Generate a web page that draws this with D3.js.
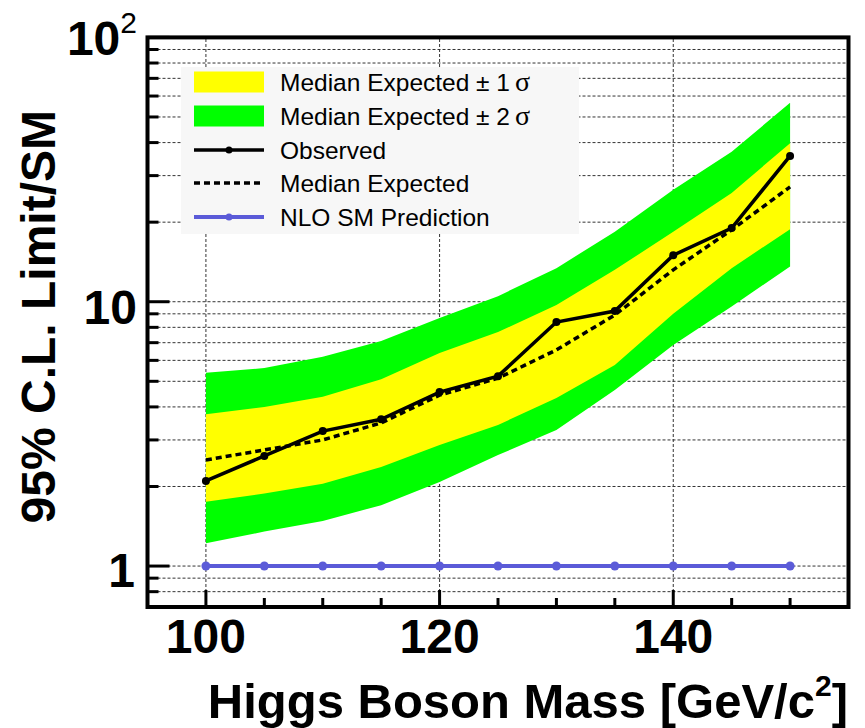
<!DOCTYPE html>
<html>
<head>
<meta charset="utf-8">
<script src="https://cdn.jsdelivr.net/npm/d3@7"></script>
<style>
  body { margin: 0; background: #fff; }
  svg { display: block; font-family: "Liberation Sans", Arial, sans-serif; }
</style>
</head>
<body>
<div id="chart"></div>
<script>
// values
const mass = [100, 105, 110, 115, 120, 125, 130, 135, 140, 145, 150];
const observed = [2.10, 2.61, 3.24, 3.59, 4.55, 5.23, 8.38, 9.22, 15.0, 19.0, 35.6];
const expected = [2.52, 2.75, 3.00, 3.48, 4.43, 5.14, 6.57, 8.91, 13.2, 18.7, 27.2];
const plus1 = [3.75, 4.00, 4.37, 5.09, 6.40, 7.68, 9.72, 13.2, 18.4, 25.8, 39.8];
const minus1 = [1.75, 1.88, 2.05, 2.37, 2.87, 3.42, 4.32, 5.76, 9.0, 13.4, 18.8];
const plus2 = [5.39, 5.61, 6.19, 7.10, 8.68, 10.5, 13.4, 18.4, 26.5, 36.9, 56.6];
const minus2 = [1.22, 1.35, 1.48, 1.70, 2.08, 2.63, 3.27, 4.63, 6.86, 9.6, 13.6];
const smPrediction = [1, 1, 1, 1, 1, 1, 1, 1, 1, 1, 1];

const xTicksMajor = [100, 120, 140];
const xTicksMinor = [105, 110, 115, 125, 130, 135, 145, 150];
const yTicksMajor = [1, 10, 100];
const yTicksMinor = [0.8, 0.9, 2, 3, 4, 5, 6, 7, 8, 9, 20, 30, 40, 50, 60, 70, 80, 90];

const legendItems = ["Median Expected ± 1", "Median Expected ± 2", "Observed", "Median Expected", "NLO SM Prediction"];

const width = 865;
const height = 728;

const x = d3.scaleLinear([95, 155], [147.5, 848.5]);
const y = d3.scaleLog([0.7, 100], [607, 37.4]);

const svg = d3.select("#chart").append("svg")
  .attr("width", width)
  .attr("height", height);

const rows = mass.map((m, i) => ({
  m,
  obs: observed[i],
  exp: expected[i],
  p1: plus1[i],
  m1: minus1[i],
  p2: plus2[i],
  m2: minus2[i],
  sm: smPrediction[i]
}));

// grid
const grid = svg.append("g")
  .attr("stroke", "#333")
  .attr("stroke-width", 1)
  .attr("stroke-dasharray", "3,2");

grid.selectAll(".hgrid")
  .data(yTicksMajor.concat(yTicksMinor).filter(d => d < 100))
  .join("line")
  .attr("x1", x.range()[0])
  .attr("x2", x.range()[1])
  .attr("y1", d => y(d))
  .attr("y2", d => y(d));

grid.selectAll(".vgrid")
  .data(xTicksMajor)
  .join("line")
  .attr("x1", d => x(d))
  .attr("x2", d => x(d))
  .attr("y1", y.range()[0])
  .attr("y2", y.range()[1]);

// bands
const band = (lo, hi) => d3.area()
  .x(d => x(d.m))
  .y0(d => y(d[lo]))
  .y1(d => y(d[hi]));

svg.append("path")
  .attr("d", band("m2", "p2")(rows))
  .attr("fill", "#00ff00");

svg.append("path")
  .attr("d", band("m1", "p1")(rows))
  .attr("fill", "#ffff00");

// lines
const line = key => d3.line()
  .x(d => x(d.m))
  .y(d => y(d[key]));

svg.append("path")
  .attr("d", line("exp")(rows))
  .attr("fill", "none")
  .attr("stroke", "#000")
  .attr("stroke-width", 3.5)
  .attr("stroke-dasharray", "6,4");

svg.append("path")
  .attr("d", line("obs")(rows))
  .attr("fill", "none")
  .attr("stroke", "#000")
  .attr("stroke-width", 3.5);

svg.append("g")
  .selectAll("circle")
  .data(rows)
  .join("circle")
  .attr("cx", d => x(d.m))
  .attr("cy", d => y(d.obs))
  .attr("r", 4)
  .attr("fill", "#000");

svg.append("path")
  .attr("d", line("sm")(rows))
  .attr("fill", "none")
  .attr("stroke", "#5b5bd8")
  .attr("stroke-width", 4);

svg.append("g")
  .selectAll("circle")
  .data(rows)
  .join("circle")
  .attr("cx", d => x(d.m))
  .attr("cy", d => y(d.sm))
  .attr("r", 4.5)
  .attr("fill", "#5b5bd8");

// legend
const lg = svg.append("g");
lg.append("rect")
  .attr("x", 181)
  .attr("y", 67)
  .attr("width", 398)
  .attr("height", 167)
  .attr("fill", "#f7f7f7");

const rowY = [82, 116, 150, 183, 217];

lg.append("rect").attr("x", 194).attr("y", 71.5).attr("width", 70).attr("height", 21).attr("fill", "#ffff00");
lg.append("rect").attr("x", 194).attr("y", 105.5).attr("width", 70).attr("height", 21).attr("fill", "#00ff00");
lg.append("line").attr("x1", 194).attr("x2", 264).attr("y1", rowY[2]).attr("y2", rowY[2])
  .attr("stroke", "#000").attr("stroke-width", 3.5);
lg.append("circle").attr("cx", 229).attr("cy", rowY[2]).attr("r", 3.5).attr("fill", "#000");
lg.append("line").attr("x1", 194).attr("x2", 264).attr("y1", rowY[3]).attr("y2", rowY[3])
  .attr("stroke", "#000").attr("stroke-width", 3.5).attr("stroke-dasharray", "6,4");
lg.append("line").attr("x1", 194).attr("x2", 264).attr("y1", rowY[4]).attr("y2", rowY[4])
  .attr("stroke", "#5b5bd8").attr("stroke-width", 4);
lg.append("circle").attr("cx", 229).attr("cy", rowY[4]).attr("r", 3.5).attr("fill", "#5b5bd8");

legendItems.forEach((t, i) => {
  const txt = lg.append("text")
    .attr("x", 280)
    .attr("y", rowY[i] + 9)
    .attr("font-size", 24.5)
    .attr("fill", "#000")
    .text(t);
  if (i < 2) {
    txt.append("tspan")
      .attr("dx", 5)
      .attr("font-family", "'Liberation Serif', serif")
      .attr("font-size", 28)
      .text("σ");
  }
});

// ticks
const ticks = svg.append("g").attr("stroke", "#000").attr("stroke-width", 3);
const x0 = x.range()[0];
ticks.selectAll(".ymaj").data(yTicksMajor).join("line")
  .attr("x1", x0).attr("x2", x0 + 22).attr("y1", d => y(d)).attr("y2", d => y(d));
ticks.selectAll(".ymin").data(yTicksMinor).join("line")
  .attr("x1", x0).attr("x2", x0 + 11).attr("y1", d => y(d)).attr("y2", d => y(d));
const yb = y.range()[0];
ticks.selectAll(".xmaj").data(xTicksMajor).join("line")
  .attr("x1", d => x(d)).attr("x2", d => x(d)).attr("y1", yb).attr("y2", yb - 17);
ticks.selectAll(".xmin").data(xTicksMinor).join("line")
  .attr("x1", d => x(d)).attr("x2", d => x(d)).attr("y1", yb).attr("y2", yb - 9);

// frame
svg.append("rect")
  .attr("x", x.range()[0])
  .attr("y", y.range()[1])
  .attr("width", x.range()[1] - x.range()[0])
  .attr("height", y.range()[0] - y.range()[1])
  .attr("fill", "none")
  .attr("stroke", "#000")
  .attr("stroke-width", 4);

// tick labels
svg.append("g")
  .selectAll("text")
  .data(xTicksMajor)
  .join("text")
  .attr("x", d => x(d))
  .attr("y", 653)
  .attr("text-anchor", "middle")
  .attr("font-size", 48)
  .attr("font-weight", "bold")
  .text(d => d);

const yl = svg.append("g")
  .attr("font-size", 48)
  .attr("font-weight", "bold")
  .attr("text-anchor", "end");
yl.append("text").attr("x", 135).attr("y", y(1) + 21).text("1");
yl.append("text").attr("x", 137).attr("y", y(10) + 22).text("10");
const topLabel = yl.append("text").attr("x", 137).attr("y", y(100) + 18);
topLabel.append("tspan").text("10");
topLabel.append("tspan").attr("font-size", 30).attr("font-weight", "normal").attr("dy", -22).text("2");

// axis titles
const xt = svg.append("text")
  .attr("x", 848)
  .attr("y", 718)
  .attr("text-anchor", "end")
  .attr("font-size", 49)
  .attr("font-weight", "bold");
xt.append("tspan").text("Higgs Boson Mass [GeV/c");
xt.append("tspan").attr("font-size", 30).attr("dy", -22).text("2");
xt.append("tspan").attr("dy", 22).text("]");

svg.append("text")
  .attr("transform", "translate(55,110) rotate(-90)")
  .attr("text-anchor", "end")
  .attr("font-size", 48)
  .attr("font-weight", "bold")
  .text("95% C.L. Limit/SM");
</script>
</body>
</html>
